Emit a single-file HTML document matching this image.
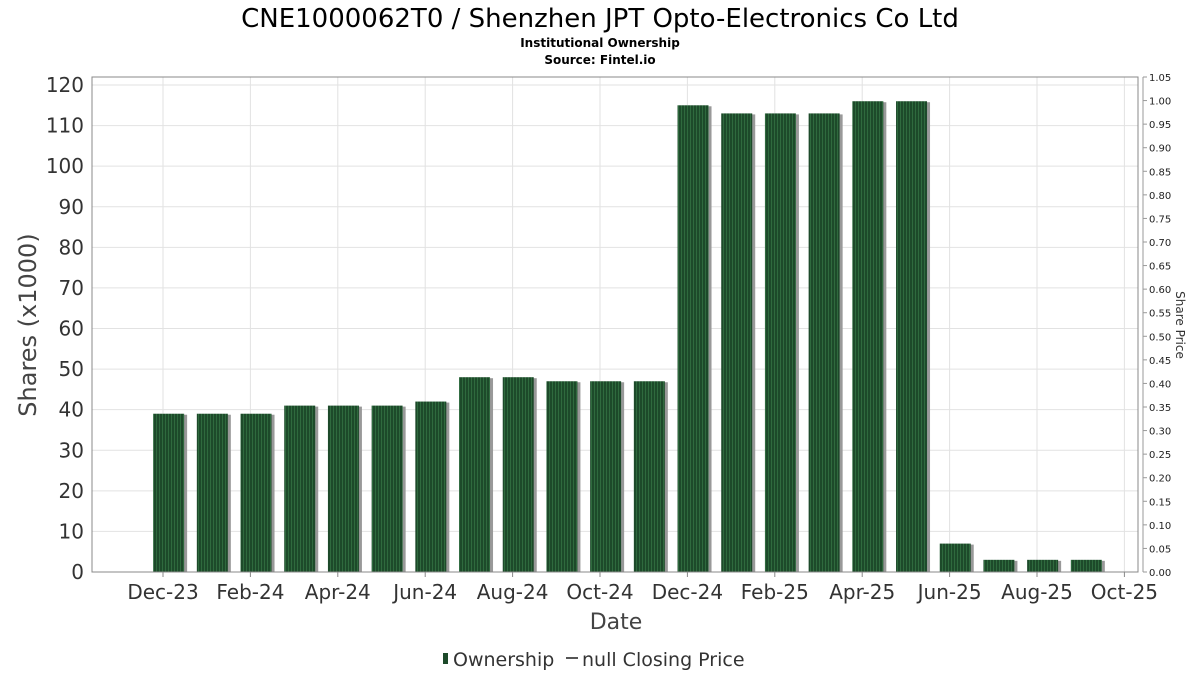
<!DOCTYPE html>
<html><head><meta charset="utf-8"><style>
body{margin:0;background:#fff;font-family:"DejaVu Sans","Liberation Sans",sans-serif}
</style></head><body>
<svg width="1200" height="675" xmlns="http://www.w3.org/2000/svg">
<defs>
<pattern id="stripe" width="3" height="10" patternUnits="userSpaceOnUse">
<rect width="3" height="10" fill="#1d4a2a"/><rect width="1" height="10" fill="#2f6a3e"/>
</pattern>
</defs>
<text x="600" y="27" text-anchor="middle" font-size="26" fill="#000">CNE1000062T0 / Shenzhen JPT Opto-Electronics Co Ltd</text>
<text x="600" y="47" text-anchor="middle" font-size="12" font-weight="bold">Institutional Ownership</text>
<text x="600" y="64" text-anchor="middle" font-size="12" font-weight="bold">Source: Fintel.io</text>
<g id="grid"></g>
<g id="bars"></g>
<rect x="92" y="77" width="1046" height="495" fill="none" stroke="#888"/>
<line x1="1143" y1="77" x2="1143" y2="572" stroke="#999"/>
<g id="axes"></g>
<text transform="translate(36,325) rotate(-90)" text-anchor="middle" font-size="24" fill="#444">Shares (x1000)</text>
<text transform="translate(1176,325) rotate(90)" text-anchor="middle" font-size="12" fill="#333">Share Price</text>
<text x="616" y="629" text-anchor="middle" font-size="22" fill="#444">Date</text>
<g>
<rect x="443" y="653" width="5" height="11" fill="#1d4a2a"/>
<text x="453" y="666" font-size="19" fill="#333">Ownership</text>
<line x1="566" y1="658" x2="578" y2="658" stroke="#555" stroke-width="2"/>
<text x="582" y="666" font-size="19" fill="#333">null Closing Price</text>
</g>
</svg>
<script>
const values=[39,39,39,41,41,41,42,48,48,47,47,47,115,113,113,113,116,116,7,3,3,3];
const yTicks=[0,10,20,30,40,50,60,70,80,90,100,110,120];
const priceTicks=["0.00","0.05","0.10","0.15","0.20","0.25","0.30","0.35","0.40","0.45","0.50","0.55","0.60","0.65","0.70","0.75","0.80","0.85","0.90","0.95","1.00","1.05"];
const xLabels=["Dec-23","Feb-24","Apr-24","Jun-24","Aug-24","Oct-24","Dec-24","Feb-25","Apr-25","Jun-25","Aug-25","Oct-25"];
const NS="http://www.w3.org/2000/svg";
const y=v=>572-v*(487/120);
const yp=v=>572-v*(495/1.05);
const xm=m=>163+m*43.7;
const xb=i=>xm(i-0.1)-5.5;
function mk(t,a,p){const e=document.createElementNS(NS,t);for(const k in a)e.setAttribute(k,a[k]);p.appendChild(e);return e;}
const grid=document.getElementById('grid'),bars=document.getElementById('bars'),axes=document.getElementById('axes');
yTicks.forEach(v=>{
 const l=mk('line',{x1:92,x2:1138,y1:y(v),y2:y(v),stroke:'#e2e2e2'},grid);
 
 
 const t=mk('text',{x:84,y:y(v)+7,'text-anchor':'end','font-size':20,fill:'#333'},axes);
 t.textContent=v;
 
 
});
xLabels.forEach((s,k)=>{
 const x=xm(k*2);
 const l=mk('line',{x1:x,x2:x,y1:77,y2:572,stroke:'#e2e2e2'},grid);
 
 
 const tk=mk('line',{x1:x,x2:x,y1:572,y2:577,stroke:'#888'},axes);
 
 
 const t=mk('text',{x:x,y:599,'text-anchor':'middle','font-size':20,fill:'#333'},axes);
 t.textContent=s;
 
 
});
priceTicks.forEach(s=>{
 const v=parseFloat(s);
 const tk=mk('line',{x1:1143,x2:1147,y1:yp(v),y2:yp(v),stroke:'#999'},axes);
 
 
 const t=mk('text',{x:1149,y:yp(v)+4,'font-size':10,fill:'#222'},axes);
 t.textContent=s;
 
 
});
values.forEach((v,i)=>{
 const x=xb(i),top=y(v),h=572-top;
 const s=mk('rect',{x:x+3,y:top+1,width:31,height:h-1,fill:'#999'},bars);
 
 
 const b=mk('rect',{x:x,y:top,width:31,height:h,fill:'url(#stripe)'},bars);
 
 
});
</script>
</body></html>
